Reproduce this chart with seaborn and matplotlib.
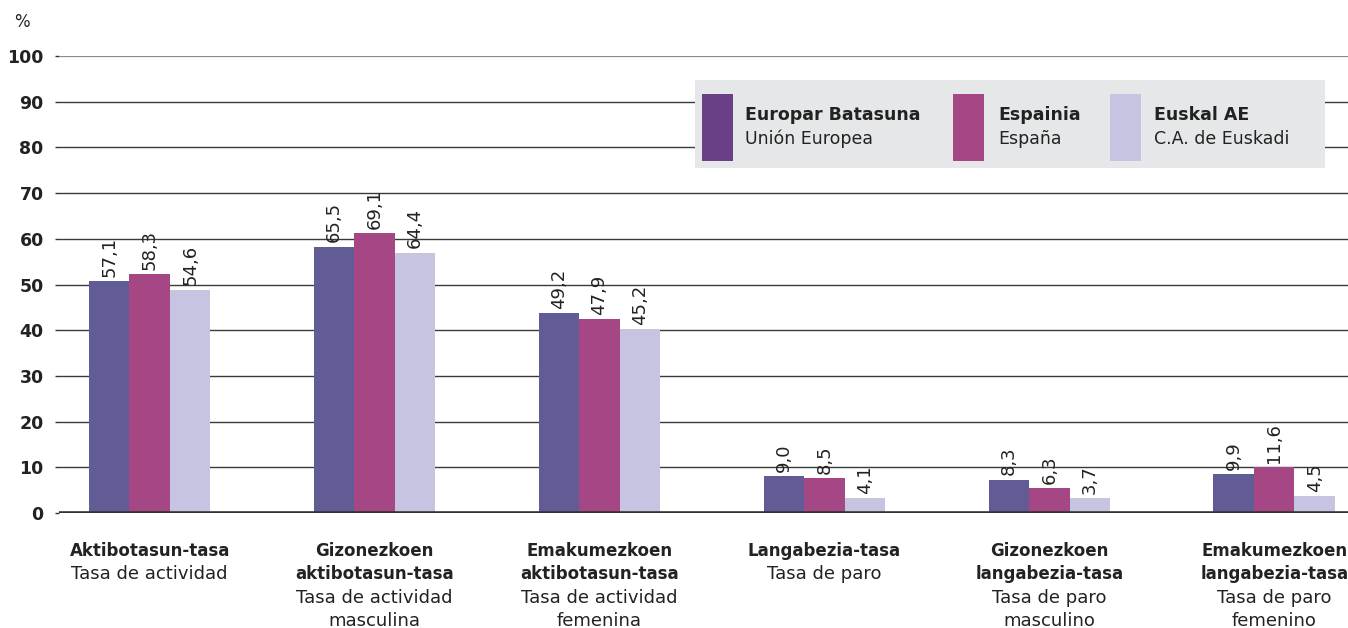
import matplotlib
matplotlib.use("Agg")
import matplotlib.pyplot as plt
import matplotlib.transforms as mtransforms
from matplotlib.patches import Rectangle
import seaborn as sns
import pandas as pd

# ---------------- data ----------------
categories = ["c1", "c2", "c3", "c4", "c5", "c6"]
bold_labels = ["Aktibotasun-tasa", "Gizonezkoen\naktibotasun-tasa", "Emakumezkoen\naktibotasun-tasa",
               "Langabezia-tasa", "Gizonezkoen\nlangabezia-tasa", "Emakumezkoen\nlangabezia-tasa"]
normal_labels = ["Tasa de actividad", "Tasa de actividad\nmasculina", "Tasa de actividad\nfemenina",
                 "Tasa de paro", "Tasa de paro\nmasculino", "Tasa de paro\nfemenino"]
series_bold = ["Europar Batasuna", "Espainia", "Euskal AE"]
series_normal = ["Unión Europea", "España", "C.A. de Euskadi"]

# bar heights as drawn in the picture
ue_bars = [50.8, 58.3, 43.8, 8.1, 7.3, 8.6]
es_bars = [52.2, 61.2, 42.5, 7.7, 5.5, 10.1]
eu_bars = [48.9, 57.0, 40.3, 3.3, 3.3, 3.7]
# value labels printed above the bars
ue_text = ["57,1", "65,5", "49,2", "9,0", "8,3", "9,9"]
es_text = ["58,3", "69,1", "47,9", "8,5", "6,3", "11,6"]
eu_text = ["54,6", "64,4", "45,2", "4,1", "3,7", "4,5"]

yticks = [0, 10, 20, 30, 40, 50, 60, 70, 80, 90, 100]

bar_colors = ["#625c96", "#a54785", "#c7c4e1"]
legend_colors = ["#693f85", "#a54785", "#c7c4e1"]

df = pd.DataFrame({
    "cat": categories * 3,
    "series": [series_bold[0]] * 6 + [series_bold[1]] * 6 + [series_bold[2]] * 6,
    "val": ue_bars + es_bars + eu_bars,
})

sns.set_theme(style="white")
plt.rcParams["font.family"] = ["DejaVu Sans"]

W, H = 1348, 628
fig = plt.figure(figsize=(W / 100, H / 100), dpi=100)
ax = fig.add_axes([59 / W, (H - 513) / H, 1 - 59 / W, (513 - 56) / H])

sns.barplot(data=df, x="cat", y="val", hue="series", order=categories, hue_order=series_bold,
            palette=bar_colors, width=0.54, gap=0, saturation=1, legend=False, ax=ax,
            edgecolor="none", linewidth=0, zorder=3)

ax.set_xlim(-0.403, 5.328)
ax.set_ylim(0, 100)
ax.set_yticks(yticks)
ax.set_yticklabels([str(t) for t in yticks], fontsize=12.5, fontweight="bold", color="#222222")
ax.set_xticks([])
ax.set_xlabel("")
ax.set_ylabel("")
for s in ax.spines.values():
    s.set_visible(False)
ax.tick_params(axis="y", length=3, width=1, color="#333333", pad=8, left=True)
ax.set_axisbelow(True)
for t in yticks[1:-1]:
    ax.axhline(t, color="#3a3a3a", lw=1.0, zorder=1)
ax.axhline(100, color="#8a8a8a", lw=1.6, zorder=1)
ax.axhline(0, color="#333333", lw=2.6, zorder=4)

for cont, labs in zip(ax.containers, [ue_text, es_text, eu_text]):
    ax.bar_label(cont, labels=labs, rotation=90, padding=3, fontsize=13, color="#222222")

# category labels (bold + normal lines)
trans = mtransforms.blended_transform_factory(ax.transData, fig.transFigure)
for i, (b, n) in enumerate(zip(bold_labels, normal_labels)):
    lines = [(l, "bold") for l in b.split("\n")] + [(l, "normal") for l in n.split("\n")]
    for k, (txt, w) in enumerate(lines):
        base = 556 + 23.3 * k
        ax.text(i, 1 - base / H, txt, transform=trans, ha="center", va="baseline",
                fontsize=12 if w == "bold" else 13, fontweight=w, color="#222222")

# "%" label
fig.text(22 / W, 1 - 27 / H, "%", fontsize=12, color="#222222", ha="center", va="baseline")

# legend box
fig.add_artist(Rectangle((695 / W, 1 - 168 / H), 630 / W, 88 / H, transform=fig.transFigure,
                         facecolor="#e6e7e8", edgecolor="none", zorder=5))
px = [702, 953, 1110]
tx = [745, 998, 1154]
for c, x0, x1, sb, sn in zip(legend_colors, px, tx, series_bold, series_normal):
    fig.add_artist(Rectangle((x0 / W, 1 - 161 / H), 31 / W, 67 / H, transform=fig.transFigure,
                             facecolor=c, edgecolor="none", zorder=6))
    fig.text(x1 / W, 1 - 120 / H, sb, fontsize=12.5, fontweight="bold", color="#222222",
             ha="left", va="baseline", zorder=7)
    fig.text(x1 / W, 1 - 144 / H, sn, fontsize=12.5, color="#222222",
             ha="left", va="baseline", zorder=7)

fig.savefig("out.png", dpi=100)
